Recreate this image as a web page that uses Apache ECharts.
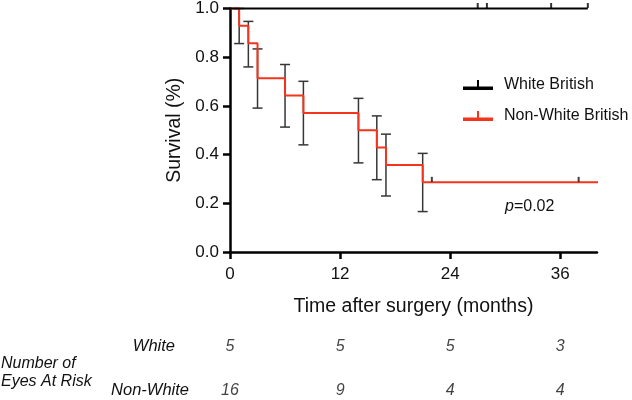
<!DOCTYPE html>
<html><head><meta charset="utf-8">
<script src="https://cdn.jsdelivr.net/npm/echarts@6/dist/echarts.min.js"></script>
<style>html,body{margin:0;padding:0;background:#fff}#c{width:632px;height:400px}</style>
</head><body><div id="c"></div>
<script>
// ---- data ----
const whiteCurve = [[0, 1], [39, 1]];
const whiteCensor = [[27, 1], [28, 1], [35, 1], [39, 1]];
const nonWhiteCurve = [[0, 1], [1, 0.929], [2, 0.857], [3, 0.714], [6, 0.643], [8, 0.571], [14, 0.5], [16, 0.429], [17, 0.357], [21, 0.286], [40.2, 0.286]];
const nonWhiteCensor = [[22, 0.286], [38, 0.286]];
// [time, lower, upper]
const nonWhiteErr = [[1, 0.856, 1.0], [2, 0.760, 0.947], [3, 0.591, 0.834], [6, 0.513, 0.770], [8, 0.440, 0.701], [14, 0.366, 0.631], [16, 0.297, 0.559], [17, 0.230, 0.484], [21, 0.166, 0.405]];
const riskTimes = [0, 12, 24, 36];
const riskWhite = [5, 5, 5, 3];
const riskNonWhite = [16, 9, 4, 4];
const riskRows = ['White', 'Non-White'];

const FONT = "'Liberation Sans', Arial, Helvetica, sans-serif";
const RED = '#f4341c';
const TXT = '#111';
const chart = echarts.init(document.getElementById('c'), null, {renderer: 'canvas'});
const legendIcon = 'path://M0,6.5 L30,6.5 L30,10 L0,10 Z M14,0 L16,0 L16,6.5 L14,6.5 Z';

const riskData = [];
riskTimes.forEach((t, i) => {
  riskData.push([t, 'White', riskWhite[i]]);
  riskData.push([t, 'Non-White', riskNonWhite[i]]);
});

chart.setOption({
  animation: false,
  textStyle: {fontFamily: FONT},
  grid: [
    {left: 230, right: 35, top: 7, bottom: 148},
    {left: 230, right: 35, top: 347, height: 44}
  ],
  xAxis: [{
    type: 'value', min: 0, max: 40, interval: 12, gridIndex: 0,
    axisLine: {lineStyle: {color: '#000', width: 2.5}},
    axisTick: {length: 7, lineStyle: {color: '#000', width: 2.5}},
    axisLabel: {color: TXT, fontSize: 17, margin: 14, fontFamily: FONT,
      showMaxLabel: false},
    splitLine: {show: false},
    name: 'Time after surgery (months)', nameLocation: 'middle', nameGap: 45,
    nameTextStyle: {color: TXT, fontSize: 19.5, fontFamily: FONT}
  }, {
    type: 'value', min: 0, max: 40, gridIndex: 1, show: false
  }],
  yAxis: [{
    type: 'value', min: 0, max: 1, interval: 0.2, gridIndex: 0,
    axisLine: {show: true, lineStyle: {color: '#000', width: 2.5}},
    axisTick: {show: true, length: 7, lineStyle: {color: '#000', width: 2.5}},
    axisLabel: {color: TXT, fontSize: 17, margin: 11, fontFamily: FONT,
      formatter: v => v.toFixed(1)},
    splitLine: {show: false},
    name: 'Survival (%)', nameLocation: 'middle', nameGap: 43,
    nameTextStyle: {color: TXT, fontSize: 19.5, fontFamily: FONT}
  }, {
    type: 'category', data: riskRows, gridIndex: 1, show: false,
    inverse: true, boundaryGap: false
  }],
  legend: {
    left: 458, top: 72, orient: 'vertical', itemGap: 15,
    itemWidth: 30, itemHeight: 10,
    textStyle: {color: TXT, fontSize: 16, fontFamily: FONT, padding: [0, 0, 0, 6]},
    data: [
      {name: 'White British', icon: legendIcon, itemStyle: {color: '#000'}},
      {name: 'Non-White British', icon: legendIcon, itemStyle: {color: RED}}
    ]
  },
  series: [
    {
      name: 'Non-White British', type: 'custom', xAxisIndex: 0, yAxisIndex: 0, z: 2,
      data: nonWhiteErr, clip: false,
      renderItem: function (params, api) {
        const lo = api.coord([api.value(0), api.value(1)]);
        const hi = api.coord([api.value(0), api.value(2)]);
        const w = 5;
        const st = {stroke: '#363636', lineWidth: 1.5};
        return {type: 'group', children: [
          {type: 'line', shape: {x1: lo[0], y1: lo[1], x2: hi[0], y2: hi[1]}, style: st},
          {type: 'line', shape: {x1: lo[0] - w, y1: lo[1], x2: lo[0] + w, y2: lo[1]}, style: st},
          {type: 'line', shape: {x1: hi[0] - w, y1: hi[1], x2: hi[0] + w, y2: hi[1]}, style: st}
        ]};
      }
    },
    {
      name: 'Non-White British', type: 'line', step: 'end', data: nonWhiteCurve,
      showSymbol: false, symbol: 'none', z: 3, clip: false,
      lineStyle: {color: RED, width: 2}, itemStyle: {color: RED}
    },
    {
      name: 'Non-White British', type: 'scatter', data: nonWhiteCensor, z: 4,
      symbol: 'rect', symbolSize: [2, 5], symbolOffset: [0, -3],
      itemStyle: {color: '#111'}
    },
    {
      name: 'White British', type: 'line', data: whiteCurve, clip: false,
      showSymbol: false, symbol: 'none', z: 3,
      lineStyle: {color: '#000', width: 2}, itemStyle: {color: '#000'}
    },
    {
      name: 'White British', type: 'scatter', data: whiteCensor, z: 4, clip: false,
      symbol: 'rect', symbolSize: [2, 5], symbolOffset: [0, -3],
      itemStyle: {color: '#000'}
    },
    {
      type: 'scatter', xAxisIndex: 1, yAxisIndex: 1, data: riskData,
      symbolSize: 0, silent: true, clip: false,
      label: {show: true, position: 'inside', formatter: p => String(p.value[2]),
        color: TXT, fontSize: 16, fontStyle: 'italic', fontFamily: FONT}
    }
  ],
  graphic: [
    {type: 'text', left: 505, top: 199, style: {
      rich: {i: {fontStyle: 'italic', fontSize: 16, fill: TXT, fontFamily: FONT},
             n: {fontSize: 16, fill: TXT, fontFamily: FONT}},
      text: '{i|p}{n|=0.02}'}},
    {type: 'text', right: 632 - 175, top: 338, style: {text: 'White', fontStyle: 'italic', fontSize: 16.5, fill: TXT, fontFamily: FONT}},
    {type: 'text', right: 632 - 189, top: 382, style: {text: 'Non-White', fontStyle: 'italic', fontSize: 16.5, fill: TXT, fontFamily: FONT}},
    {type: 'text', left: 1, top: 356, style: {text: 'Number of', fontStyle: 'italic', fontSize: 16, fill: TXT, fontFamily: FONT}},
    {type: 'text', left: 1, top: 374, style: {text: 'Eyes At Risk', fontStyle: 'italic', fontSize: 16, fill: TXT, fontFamily: FONT}}
  ]
});
</script></body></html>
